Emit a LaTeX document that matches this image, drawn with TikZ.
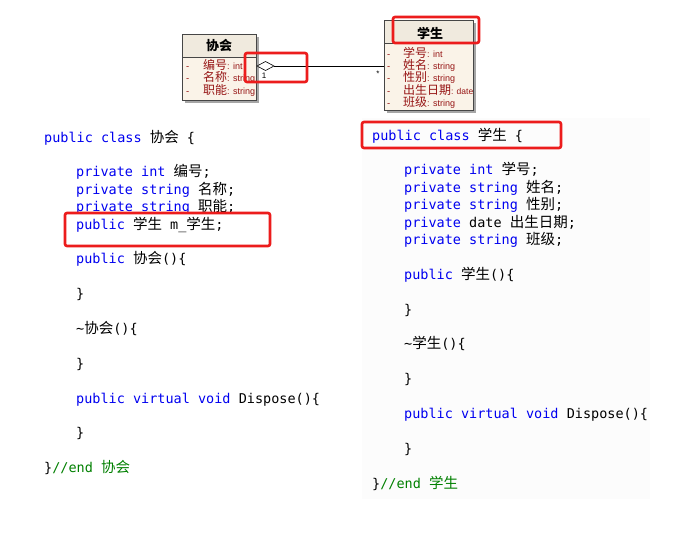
\documentclass[tikz,border=0pt]{standalone}
\usepackage{fontspec}
\setmainfont{Liberation Sans}
\newfontfamily\cjk{Noto Sans CJK SC}
\newfontfamily\codefont{DejaVu Sans Mono}
\newfontfamily\umlfont{Liberation Sans}
\definecolor{kwblue}{RGB}{0,0,240}
\definecolor{cmgreen}{RGB}{0,128,0}
\definecolor{attrred}{RGB}{150,20,20}
\definecolor{boxbody}{RGB}{250,243,232}
\definecolor{boxhead}{RGB}{240,234,222}
\definecolor{boxline}{RGB}{70,70,70}
\definecolor{codebg}{RGB}{252,252,252}
\definecolor{hlred}{RGB}{236,28,28}
\newcommand\kw[1]{\textcolor{kwblue}{#1}}
\newcommand\zh[1]{{\cjk\fontsize{14.5}{14.5}\selectfont #1}}
\newcommand\azh[1]{{\cjk\fontsize{12}{12}\selectfont #1}}
\newcommand\alt[1]{{\umlfont\fontsize{9}{9}\selectfont #1}}
\tikzset{
  codeline/.style={anchor=base west, inner sep=0pt, font=\codefont\fontsize{13.5}{13.5}\selectfont},
  attr/.style={anchor=base west, inner sep=0pt, text=attrred},
  dashmark/.style={anchor=base west, inner sep=0pt, text=attrred, font=\umlfont\fontsize{9.5}{9.5}\selectfont},
  classbox/.style={draw=boxline, line width=0.8pt, fill=boxbody},
  classhead/.style={draw=boxline, line width=0.8pt, fill=boxhead},
  shadowbox/.style={fill=black!35, draw=none},
  hl/.style={draw=hlred, line width=2.6pt, rounded corners=2pt},
  assoc/.style={draw=black, line width=0.6pt},
  mult/.style={inner sep=0pt, font=\umlfont\fontsize{8}{8}\selectfont}
}
\begin{document}
\begin{tikzpicture}[x=1pt,y=-1pt]
\useasboundingbox (0,0) rectangle (678,533);
\fill[white] (0,0) rectangle (678,533);
% background of right code block
\fill[codebg] (362,118) rectangle (650,499);

% ===== class box 协会 =====
\fill[shadowbox] (185,37) rectangle (259,103);
\draw[classbox] (182,57) rectangle (256,100);
\draw[classhead] (182,34) rectangle (256,57);
\node[inner sep=0pt, font=\cjk\bfseries\fontsize{13}{13}\selectfont] (hA) at (219,46) {协会};
\begin{scope}
\clip (182,57) rectangle (255.5,100);
\node[dashmark] (dA1) at (186,69) {-};
\node[dashmark] (dA2) at (186,81.5) {-};
\node[dashmark] (dA3) at (186,94) {-};
\node[attr] (aA1) at (203,69) {\azh{编号}\alt{: int}};
\node[attr] (aA2) at (203,81.5) {\azh{名称}\alt{: string}};
\node[attr] (aA3) at (203,94) {\azh{职能}\alt{: string}};
\end{scope}
\coordinate (boxAright) at (256,66);

% ===== class box 学生 =====
\fill[shadowbox] (387,23) rectangle (476,113);
\draw[classbox] (384,43) rectangle (473,110);
\draw[classhead] (384,20) rectangle (473,43);
\node[inner sep=0pt, font=\cjk\bfseries\fontsize{13}{13}\selectfont] (hB) at (430,33) {学生};
\node[dashmark] (dB1) at (387,57) {-};
\node[dashmark] (dB2) at (387,69.3) {-};
\node[dashmark] (dB3) at (387,81.6) {-};
\node[dashmark] (dB4) at (387,94) {-};
\node[dashmark] (dB5) at (387,106) {-};
\node[attr] (aB1) at (403,57) {\azh{学号}\alt{: int}};
\node[attr] (aB2) at (403,69.3) {\azh{姓名}\alt{: string}};
\node[attr] (aB3) at (403,81.6) {\azh{性别}\alt{: string}};
\node[attr] (aB4) at (403,94) {\azh{出生日期}{\umlfont\fontsize{8.5}{8.5}\selectfont: date}};
\node[attr] (aB5) at (403,106) {\azh{班级}\alt{: string}};
\coordinate (boxBleft) at (384,66);

% ===== aggregation connector =====
\coordinate (dl) at (257,66);
\coordinate (dt) at (265.5,61.5);
\coordinate (dr) at (274,66);
\coordinate (db) at (265.5,70.5);
\draw[assoc, fill=white] (dl) -- (dt) -- (dr) -- (db) -- cycle;
\draw[assoc] (dr) -- (boxBleft);
\node[mult] (m1) at (264,76) {1};
\node[mult] (m2) at (378,74) {*};

% ===== left code =====
\node[codeline] (L0) at (44,142) {\kw{public class} \zh{协会} \{};
\node[codeline] (L2) at (76,176.8) {\kw{private int} \zh{编号};};
\node[codeline] (L3) at (76,194.2) {\kw{private string} \zh{名称};};
\node[codeline] (L4) at (76,211.6) {\kw{private string} \zh{职能};};
\node[codeline] (L5) at (76,229) {\kw{public} \zh{学生} m\_\zh{学生};};
\node[codeline] (L7) at (76,263.8) {\kw{public} \zh{协会}()\{};
\node[codeline] (L9) at (76,298.6) {\}};
\node[codeline] (L11) at (76,333.4) {\textasciitilde\zh{协会}()\{};
\node[codeline] (L13) at (76,368.2) {\}};
\node[codeline] (L15) at (76,403) {\kw{public virtual void} Dispose()\{};
\node[codeline] (L17) at (76,437.8) {\}};
\node[codeline] (L19) at (44,472.6) {\}\textcolor{cmgreen}{//end \zh{协会}}};

% ===== right code =====
\node[codeline] (R0) at (372,140) {\kw{public class} \zh{学生} \{};
\node[codeline] (R2) at (404,174.8) {\kw{private int} \zh{学号};};
\node[codeline] (R3) at (404,192.2) {\kw{private string} \zh{姓名};};
\node[codeline] (R4) at (404,209.6) {\kw{private string} \zh{性别};};
\node[codeline] (R5) at (404,227) {\kw{private} date \zh{出生日期};};
\node[codeline] (R6) at (404,244.4) {\kw{private string} \zh{班级};};
\node[codeline] (R8) at (404,279.2) {\kw{public} \zh{学生}()\{};
\node[codeline] (R10) at (404,314) {\}};
\node[codeline] (R12) at (404,348.8) {\textasciitilde\zh{学生}()\{};
\node[codeline] (R14) at (404,383.6) {\}};
\node[codeline] (R16) at (404,418.4) {\kw{public virtual void} Dispose()\{};
\node[codeline] (R18) at (404,453.2) {\}};
\node[codeline] (R20) at (372,488) {\}\textcolor{cmgreen}{//end \zh{学生}}};

% ===== red highlight boxes =====
\draw[hl] (393,17) rectangle (479,43);
\draw[hl] (245,53) rectangle (307,82);
\draw[hl] (65,213) rectangle (270,246);
\draw[hl] (362,122) rectangle (561,148);
\end{tikzpicture}
\end{document}
